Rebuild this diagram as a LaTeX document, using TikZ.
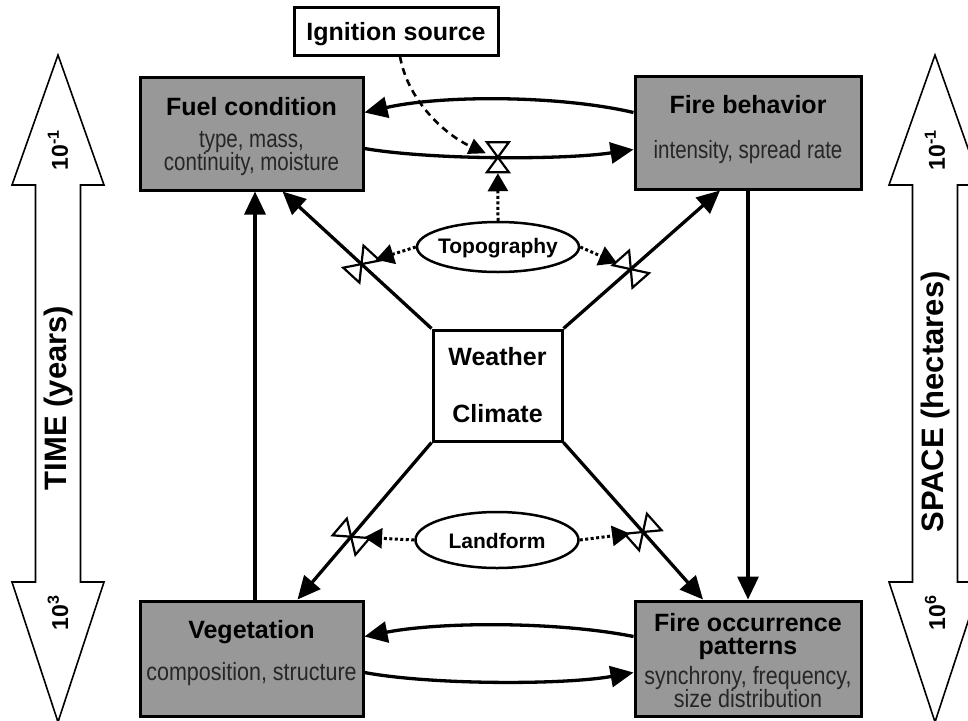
\documentclass[tikz,border=0pt]{standalone}
\usepackage{fontspec}
\setmainfont{Liberation Sans}
\newfontfamily\narrowfont[FakeStretch=0.82]{Liberation Sans}
\newfontfamily\narrowfontb[FakeStretch=0.86]{Liberation Sans}
\usetikzlibrary{arrows.meta,shapes.geometric,calc}
\definecolor{boxgray}{RGB}{152,152,152}
\begin{document}
\begin{tikzpicture}[x=1pt,y=-1pt,
  box/.style={draw=black,line width=3pt,fill=boxgray,inner sep=0pt},
  wbox/.style={draw=black,line width=3pt,fill=white,inner sep=0pt},
  oval/.style={draw=black,ellipse,line width=2.5pt,fill=white,inner sep=0pt},
  title/.style={font=\bfseries\fontsize{25}{25}\selectfont,anchor=base,inner sep=0pt},
  elab/.style={font=\bfseries\fontsize{21}{21}\selectfont,anchor=base,inner sep=0pt},
  sub/.style={font=\narrowfont\fontsize{25}{25}\selectfont,anchor=base,inner sep=0pt,text=black!85},
  subb/.style={font=\narrowfontb\fontsize{25}{25}\selectfont,anchor=base,inner sep=0pt,text=black!85},
  axlab/.style={font=\bfseries\fontsize{31}{31}\selectfont,rotate=90,inner sep=0pt},
  explab/.style={font=\bfseries\fontsize{23}{23}\selectfont,rotate=90,inner sep=0pt},
  conn/.style={line width=3.3pt,-{Triangle[length=23pt,width=21pt]}},
  dotarrow/.style={line width=3pt,dash pattern=on 3pt off 2.5pt,-{Triangle[length=18pt,width=20pt]}},
  dasharrow/.style={line width=2.6pt,dash pattern=on 7pt off 5pt,-{Triangle[length=17pt,width=16pt]}},
  bigarrow/.style={draw=black,line width=1.6pt,fill=white,line join=miter},
  valve/.pic={\draw[line width=2.2pt,fill=white,line join=miter,solid]
     (0,0)--(-11,-15)--(11,-15)--cycle (0,0)--(-11,15)--(11,15)--cycle;}
]
\useasboundingbox (0,0) rectangle (968,720);
\clip (0,0) rectangle (968,720);

% big axis arrows
\draw[bigarrow] (58,55) -- (104,185) -- (80.5,185) -- (80.5,582) -- (104,582) -- (58,722)
  -- (12,582) -- (35.5,582) -- (35.5,185) -- (12,185) -- cycle;
\draw[bigarrow] (935,55) -- (981,185) -- (957.5,185) -- (957.5,582) -- (981,582) -- (935,722)
  -- (889,582) -- (912.5,582) -- (912.5,185) -- (889,185) -- cycle;
\node[explab] (t1) at (58,150) {10\textsuperscript{-1}};
\node[axlab] (tl) at (58,398) {TIME (years)};
\node[explab] (t2) at (58,613) {10\textsuperscript{3}};
\node[explab] (s1) at (935,150) {10\textsuperscript{-1}};
\node[axlab] (sl) at (935,402) {SPACE (hectares)};
\node[explab] (s2) at (935,613) {10\textsuperscript{6}};

% boxes
\node[box,minimum width=223pt,minimum height=113pt] (fuel) at (251.5,133.5) {};
\node[box,minimum width=226pt,minimum height=113pt] (fire) at (748,132.5) {};
\node[box,minimum width=223pt,minimum height=115pt] (veg) at (251.5,658.5) {};
\node[box,minimum width=226pt,minimum height=115pt] (occ) at (748,658.5) {};
\node[wbox,minimum width=129pt,minimum height=111pt] (wea) at (497.5,385.5) {};
\node[wbox,minimum width=204pt,minimum height=48pt] (ign) at (396,31) {};
\node[oval,minimum width=162pt,minimum height=50pt] (topo) at (498,247) {};
\node[oval,minimum width=163pt,minimum height=56pt] (land) at (497,540) {};

% texts
\node[title] (fuelT) at (251.5,115) {Fuel condition};
\node[sub] (fuelS1) at (251.5,147) {type, mass,};
\node[sub] (fuelS2) at (251.5,170) {continuity, moisture};
\node[title] (fireT) at (748,113) {Fire behavior};
\node[sub] (fireS) at (748,158) {intensity, spread rate};
\node[title] (vegT) at (251.5,638) {Vegetation};
\node[subb] (vegS) at (251.5,680) {composition, structure};
\node[title] (occT1) at (748,631) {Fire occurrence};
\node[title] (occT2) at (748,654) {patterns};
\node[subb] (occS1) at (748,684) {synchrony, frequency,};
\node[subb] (occS2) at (748,707) {size distribution};
\node[title] (weaT1) at (497.5,365) {Weather};
\node[title] (weaT2) at (497.5,422) {Climate};
\node[title] (ignT) at (396,40) {Ignition source};
\node[elab] (topoT) at (498,253) {Topography};
\node[elab] (landT) at (497,548) {Landform};

% end points on boxes
\coordinate (fuelB) at ($(fuel.south)+(31,0)$);
\coordinate (fireB) at ($(fire.south)+(-28,0)$);
\coordinate (vegB) at ($(veg.north)+(46,0)$);
\coordinate (occB) at ($(occ.north)+(-45,0)$);

% diagonal connectors from weather/climate
\draw[conn] (wea.north west) -- (fuelB);
\draw[conn] (wea.north east) -- (fireB);
\draw[conn] (wea.south west) -- (vegB);
\draw[conn] (wea.south east) -- (occB);

% vertical connectors
\draw[conn] ($(veg.north)+(3.5,0)$) -- ($(fuel.south)+(3.5,0)$);
\draw[conn] (fire.south) -- (occ.north);

% curved connectors, top pair
\draw[conn] ($(fire.west)+(0,-20)$) .. controls +(-75,-17.5) and +(77,-17.5) .. ($(fuel.east)+(0,-21)$);
\draw[conn] ($(fuel.east)+(0,15)$) .. controls +(67,11.5) and +(-70,10.5) .. ($(fire.west)+(0,17)$);
\path ($(fuel.east)+(0,15)$) .. controls +(67,11.5) and +(-70,10.5) .. ($(fire.west)+(0,17)$)
  coordinate[pos=0.5] (vtop);

% curved connectors, bottom pair
\draw[conn] ($(occ.west)+(0,-22)$) .. controls +(-75,-15) and +(77,-15) .. ($(veg.east)+(0,-22)$);
\draw[conn] ($(veg.east)+(0,14)$) .. controls +(67,12.5) and +(-70,12.5) .. ($(occ.west)+(0,14)$);

% valves
\path (wea.north west) -- (fuelB) coordinate[pos=0.47] (v1) pic[pos=0.47,sloped] {valve};
\path (wea.north east) -- (fireB) coordinate[pos=0.43] (v2) pic[pos=0.43,sloped] {valve};
\path (wea.south west) -- (vegB) coordinate[pos=0.6] (v3) pic[pos=0.6,sloped] {valve};
\path (wea.south east) -- (occB) coordinate[pos=0.57] (v4) pic[pos=0.57,sloped] {valve};
\pic at (vtop) {valve};

% influence arrows
\draw[dotarrow] (topo.north) -- ($(vtop)+(0,16)$);
\draw[dotarrow,shorten >=15pt] (topo.west) -- (v1);
\draw[dotarrow,shorten >=15pt] (topo.east) -- (v2);
\draw[dotarrow,shorten >=13pt] (land.west) -- (v3);
\draw[dotarrow,shorten >=13pt] (land.east) -- (v4);
\draw[dasharrow] ($(ign.south)+(4,0)$) .. controls +(8,45) and +(-40,-18) .. ($(vtop)+(-12,-4)$);
\end{tikzpicture}
\end{document}
